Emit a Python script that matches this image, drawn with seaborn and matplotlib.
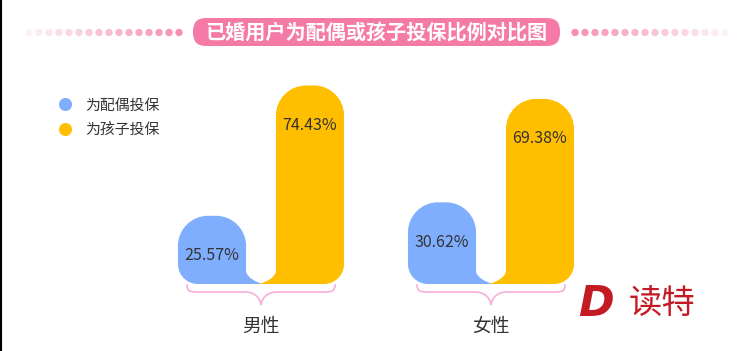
import numpy as np
import pandas as pd
import matplotlib
matplotlib.use("Agg")
import matplotlib.pyplot as plt
from matplotlib.path import Path
from matplotlib.patches import PathPatch, FancyBboxPatch
from matplotlib.lines import Line2D
from matplotlib.colors import LinearSegmentedColormap, to_hex
import seaborn as sns

# ---------------- data ----------------
title = "已婚用户为配偶或孩子投保比例对比图"
genders = ["男性", "女性"]
series_names = ["为配偶投保", "为孩子投保"]
spouse_vals = [25.57, 30.62]
child_vals = [74.43, 69.38]

BLUE = "#80aefe"
YELLOW = "#ffbf00"
PINK = "#f57aa5"
BRACE = "#f7b3dc"
TEXT = "#333333"
RED = "#c41a24"

df = pd.DataFrame({
    "gender": genders * 2,
    "type": [series_names[0]] * 2 + [series_names[1]] * 2,
    "value": spouse_vals + child_vals,
})

sns.set_style("white")
plt.rcParams["font.family"] = ["Noto Sans CJK SC", "DejaVu Sans"]

W, H = 749, 351
fig = plt.figure(figsize=(W / 100, H / 100), dpi=100)
fig.patch.set_facecolor("white")

# overlay axes in pixel coordinates (decorations)
ov = fig.add_axes([0, 0, 1, 1], zorder=0)
ov.set_xlim(0, W)
ov.set_ylim(H, 0)
ov.set_axis_off()
ov.patch.set_alpha(0)

# main axes
base_px = 284
top_px = 40
ax = fig.add_axes([0, (H - base_px) / H, 1, (base_px - top_px) / H], zorder=1)
ax.patch.set_alpha(0)
sns.barplot(data=df, x="gender", y="value", hue="type",
            palette=[BLUE, YELLOW], width=0.852, gap=0.305,
            errorbar=None, legend=False, ax=ax, saturation=1)
ax.set_xlim(-261 / 230, (W - 261) / 230)
ax.set_ylim(0, (base_px - top_px) / 2.667)
sns.despine(ax=ax, left=True, bottom=True)
ax.set_yticks([])
ax.set_xlabel("")
ax.set_ylabel("")
ax.tick_params(axis="x", length=0, pad=23, labelsize=13.5, labelcolor=TEXT)

# ---------- reshape bars into bubble shapes ----------
def to_px(x, y):
    d = ax.transData.transform((x, y))
    return d[0], H - d[1]

def from_px(px, py):
    d = ax.transData.inverted().transform((px, H - py))
    return d

K = 0.5523

def bubble_path(x0, x1, ytop, ybot, tail_right):
    r = min(30, (x1 - x0) / 2 - 1)
    rb = 20
    tail_w, tail_h = 17, 12
    verts, codes = [], []
    def M(p): verts.append(p); codes.append(Path.MOVETO)
    def L(p): verts.append(p); codes.append(Path.LINETO)
    def C(p1, p2, p3):
        verts.extend([p1, p2, p3]); codes.extend([Path.CURVE4] * 3)
    M((x0, ytop + r))
    if tail_right:
        L((x0, ybot - rb))
        C((x0, ybot - rb + K * rb), (x0 + rb - K * rb, ybot), (x0 + rb, ybot))
        L((x1 + tail_w, ybot))
        C((x1 + tail_w * 0.55, ybot - 2), (x1 + 2, ybot - tail_h * 0.5), (x1, ybot - tail_h))
        L((x1, ytop + r))
    else:
        L((x0, ybot - tail_h))
        C((x0 - 2, ybot - tail_h * 0.5), (x0 - tail_w * 0.55, ybot - 2), (x0 - tail_w, ybot))
        L((x1 - rb, ybot))
        C((x1 - rb + K * rb, ybot), (x1, ybot - rb + K * rb), (x1, ybot - rb))
        L((x1, ytop + r))
    C((x1, ytop + r - K * r), (x1 - r + K * r, ytop), (x1 - r, ytop))
    L((x0 + r, ytop))
    C((x0 + r - K * r, ytop), (x0, ytop + r - K * r), (x0, ytop + r))
    verts.append((0, 0)); codes.append(Path.CLOSEPOLY)
    data_verts = [from_px(*v) for v in verts]
    return Path(data_verts, codes)

bars = list(ax.patches)
for p in bars:
    x, w, h = p.get_x(), p.get_width(), p.get_height()
    fc = to_hex(p.get_facecolor())
    is_blue = fc.lower() == BLUE
    x0, ytop = to_px(x, h)
    x1, ybot = to_px(x + w, 0)
    path = bubble_path(x0, x1, ytop, ybot, tail_right=is_blue)
    p.set_visible(False)
    ax.add_patch(PathPatch(path, facecolor=fc, edgecolor="none", clip_on=False))
    ax.annotate(f"{h:.2f}%", xy=(x + w / 2, h), xytext=(0, -40),
                textcoords="offset pixels", ha="center", va="center",
                fontsize=11.5, color=TEXT)

# ---------- braces ----------
for i in range(len(genders)):
    cx, by = to_px(i, 0)
    hw = 74
    yt, yh, yp = by + 1, by + 8, by + 21
    verts = [
        (cx - hw, yt),
        (cx - hw, yh - 1), (cx - hw + 3, yh), (cx - hw + 10, yh),
        (cx - 16, yh),
        (cx - 6, yh), (cx - 1, yh + 6), (cx, yp),
        (cx + 1, yh + 6), (cx + 6, yh), (cx + 16, yh),
        (cx + hw - 10, yh),
        (cx + hw - 3, yh), (cx + hw, yh - 1), (cx + hw, yt),
    ]
    codes = [Path.MOVETO, Path.CURVE4, Path.CURVE4, Path.CURVE4, Path.LINETO,
             Path.CURVE4, Path.CURVE4, Path.CURVE4,
             Path.CURVE4, Path.CURVE4, Path.CURVE4, Path.LINETO,
             Path.CURVE4, Path.CURVE4, Path.CURVE4]
    ov.add_patch(PathPatch(Path(verts, codes), facecolor="none",
                           edgecolor=BRACE, lw=1.3, capstyle="round"))

# ---------- legend ----------
handles = [Line2D([], [], ls="none", marker="o", markersize=9.4,
                  markerfacecolor=c, markeredgecolor="none") for c in (BLUE, YELLOW)]
ax.legend(handles, series_names, loc="upper left",
          bbox_to_anchor=(57.7 / W, 1 - 98.5 / H), bbox_transform=fig.transFigure,
          frameon=False, fontsize=10.7, handlelength=1.0, handletextpad=0.82,
          labelspacing=0.7, borderpad=0, borderaxespad=0, labelcolor=TEXT)

# ---------- title ----------
ov.add_patch(FancyBboxPatch((193, 18), 367, 28,
                            boxstyle="round,pad=0,rounding_size=13",
                            facecolor=PINK, edgecolor="none"))
ov.text(376.5, 32.5, title, ha="center", va="center", color="white",
        fontsize=14.5, fontweight="heavy")

cmap = LinearSegmentedColormap.from_list("dots", ["#fdf2f6", "#f58fb7"])
n = 16
lx = np.arange(n) * 10 + 29
rx = np.arange(n) * 10 + 575
t = np.linspace(0, 1, n)
ov.scatter(lx, np.full(n, 32.5), s=28, c=cmap(t), linewidths=0)
ov.scatter(rx, np.full(n, 32.5), s=28, c=cmap(t[::-1]), linewidths=0)

# ---------- logo ----------
ov.text(596, 304, "D", ha="center", va="center", color=RED, fontsize=31,
        fontweight="heavy", fontstyle="italic", family="DejaVu Sans")
ov.text(662, 303, "读特", ha="center", va="center", color=RED, fontsize=24,
        fontweight="light")

# left border line
ov.plot([0.7, 0.7], [0, H], color="black", lw=1.5, solid_capstyle="butt")

fig.savefig("out.png", dpi=100)
